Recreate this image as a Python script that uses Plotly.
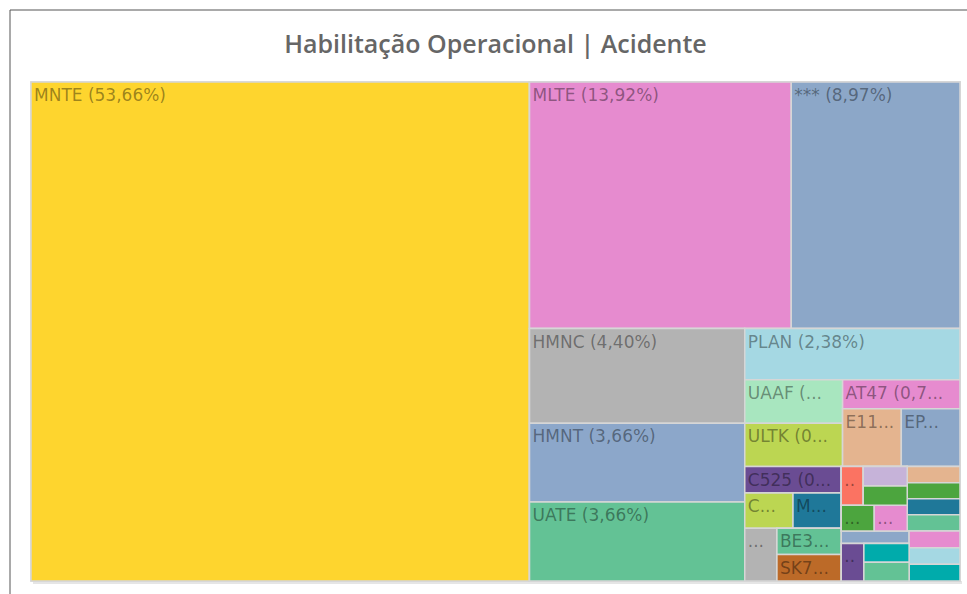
import plotly.graph_objects as go

# ---- data -------------------------------------------------------------
# leaf categories (labels as they can be read), counts, group they sit in
leaf_ids = ["MNTE", "MLTE", "***", "HMNC", "HMNT", "UATE", "PLAN",
            "UAAF", "ULTK", "AT47", "E11", "EP",
            "C525", "C", "M", "cinza", "BE3", "SK7",
            "o1", "o2", "o3", "o4", "o5", "o6", "o7", "o8", "o9",
            "o10", "o11", "o12", "o13", "o14", "o15", "o16"]
leaf_values = [293, 76, 49, 24, 20, 20, 13,
               5, 5, 4, 4, 4,
               3, 2, 2, 2, 2, 2,
               1, 1, 1, 1, 1, 1, 1, 1, 1,
               1, 1, 1, 1, 1, 1, 1]
leaf_groups = ["gR", "gB", "gB", "gD", "gD", "gD", "gE",
               "gF1", "gF1", "gF2", "gF3", "gF3",
               "gG1", "gG1a", "gG1a", "gG1b", "gG1c", "gG1c",
               "gG2a1a", "gG2a1c", "gG2a1c", "gG2a1b", "gG2a1b",
               "gG2a2", "gG2a2", "gG2a2", "gG2a2",
               "gG2b1", "gG2b1a", "gG2b1b", "gG2b1b",
               "gG2b2", "gG2b2", "gG2b2"]
# text shown in the tiles (truncated as in the picture)
shown_text = {"UAAF": "UAAF (...", "ULTK": "ULTK (0...", "AT47": "AT47 (0,7...",
              "E11": "E11...", "EP": "EP...", "C525": "C525 (0...",
              "C": "C...", "M": "M...", "cinza": "...", "BE3": "BE3...",
              "SK7": "SK7...", "o1": "..", "o4": "...", "o5": "...",
              "o11": ".."}
leaf_colors = ["#FED52E", "#E68BCF", "#8CA7C8", "#B3B3B3", "#8CA7CA", "#63C295", "#A5D8E3",
               "#A8E6BF", "#BCD652", "#E68BCF", "#E4B48F", "#8CA7C8",
               "#6A4C93", "#BCD652", "#1F7899", "#B3B3B3", "#63C295", "#BC6A28",
               "#FB7362", "#C6B3D9", "#4CA53E", "#4CA53E", "#E68BCF",
               "#E4B48F", "#4CA53E", "#1F7899", "#63C295",
               "#8CA7C8", "#6A4C93", "#00ABAB", "#63C295",
               "#E68BCF", "#A5D8E3", "#00ABAB"]

# grouping (hierarchy) of the tiles: (group, parent group)
groups = [("gR", ""), ("gA", "gR"), ("gB", "gA"), ("gC", "gA"), ("gD", "gC"), ("gE", "gC"),
          ("gF", "gE"), ("gF1", "gF"), ("gF2", "gF"), ("gF3", "gF2"),
          ("gG", "gE"), ("gG1", "gG"), ("gG1a", "gG1"), ("gG1b", "gG1"), ("gG1c", "gG1b"),
          ("gG2", "gG"), ("gG2a", "gG2"), ("gG2a1", "gG2a"), ("gG2a1a", "gG2a1"),
          ("gG2a1c", "gG2a1a"), ("gG2a1b", "gG2a1"), ("gG2a2", "gG2a"),
          ("gG2b", "gG2"), ("gG2b1", "gG2b"), ("gG2b1a", "gG2b1"), ("gG2b1b", "gG2b1a"),
          ("gG2b2", "gG2b")]

title_text = "Habilitação Operacional | Acidente"

# ---- build ordered node table -----------------------------------------
total = sum(leaf_values)
children = {}
for g, p in groups:
    children.setdefault(p, []).append(("g", g))
for i, g in enumerate(leaf_groups):
    children.setdefault(g, []).append(("l", i))

# order of children inside each group (as seen in the picture)
order = {
    "gR": ["MNTE", "gA"], "gA": ["gB", "gC"], "gC": ["gD", "gE"], "gE": ["PLAN", "gF", "gG"],
    "gF": ["gF1", "gF2"], "gF2": ["AT47", "gF3"], "gG": ["gG1", "gG2"],
    "gG1": ["C525", "gG1a", "gG1b"], "gG1b": ["cinza", "gG1c"],
    "gG2": ["gG2a", "gG2b"], "gG2a": ["gG2a1", "gG2a2"], "gG2a1": ["gG2a1a", "gG2a1b"],
    "gG2a1a": ["o1", "gG2a1c"], "gG2b": ["gG2b1", "gG2b2"], "gG2b1": ["o10", "gG2b1a"],
    "gG2b1a": ["o11", "gG2b1b"],
}

ids, parents, values, texts, colors = [], [], [], [], []


def key(item):
    return item[1] if item[0] == "g" else leaf_ids[item[1]]


def walk(node, parent):
    if node[0] == "g":
        name = node[1]
        ids.append(name); parents.append(parent); values.append(0)
        texts.append(""); colors.append("#ffffff")
        kids = children.get(name, [])
        if name in order:
            kids = sorted(kids, key=lambda k: order[name].index(key(k)))
        for k in kids:
            walk(k, name)
    else:
        i = node[1]
        lid = leaf_ids[i]
        ids.append(lid); parents.append(parent); values.append(leaf_values[i])
        if lid in shown_text:
            t = shown_text[lid]
        elif lid.startswith("o"):
            t = ""
        else:
            t = f"{lid} ({leaf_values[i] / total * 100:.2f}%)".replace(".", ",")
        texts.append(t); colors.append(leaf_colors[i])


walk(("g", "gR"), "")

fig = go.Figure(go.Treemap(
    ids=ids, labels=ids, parents=parents, values=values,
    branchvalues="remainder", sort=False,
    text=texts, texttemplate="%{text}", textposition="top left",
    textfont=dict(family="DejaVu Sans", size=17, color="rgba(0,0,0,0.40)"),
    marker=dict(colors=colors, line=dict(color="#d6d6d6", width=1.5),
                pad=dict(t=0, l=0, r=0, b=0), depthfade=False),
    tiling=dict(packing="slice-dice", pad=0),
    pathbar=dict(visible=False),
    hoverinfo="skip",
    root=dict(color="#ffffff"),
))

W, H = 967, 594
ml, mr, mt, mb = 31, 7, 82, 13
pw, ph = W - ml - mr, H - mt - mb


def px(x):
    return (x - ml) / pw


def py(y):
    return (H - mb - y) / ph


fig.update_layout(
    width=W, height=H,
    margin=dict(l=ml, r=mr, t=mt, b=mb),
    paper_bgcolor="white",
    title=dict(text=title_text, x=0.5, xref="paper", xanchor="center",
               y=1 - 44 / H, yref="container", yanchor="middle",
               font=dict(family="Open Sans", size=25, color="#666666", weight=600)),
    shapes=[
        dict(type="line", xref="paper", yref="paper", x0=px(10), x1=px(967),
             y0=py(10), y1=py(10), line=dict(color="#555555", width=1)),
        dict(type="line", xref="paper", yref="paper", x0=px(10), x1=px(10),
             y0=py(10), y1=py(594), line=dict(color="#555555", width=1)),
        dict(type="rect", xref="paper", yref="paper", x0=px(33), x1=px(962),
             y0=py(584), y1=py(581), line=dict(width=0),
             fillcolor="rgba(0,0,0,0.10)", layer="below"),
    ],
)

fig.write_html("out.html", config={"displayModeBar": False},
               post_script="document.body.style.margin='0';")
